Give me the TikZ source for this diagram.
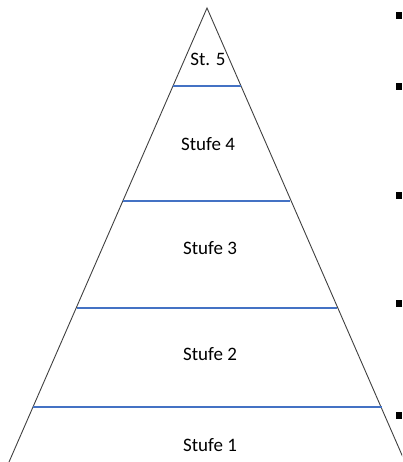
\documentclass[tikz,border=0pt]{standalone}
\usepackage{fontspec}
\setmainfont{Carlito}
\definecolor{levelblue}{HTML}{4472C4}
\begin{document}
\begin{tikzpicture}[x=1pt,y=-1pt,
  outline/.style={draw=black!75,line width=0.9pt},
  divider/.style={draw=levelblue,line width=2pt},
  label/.style={font=\fontsize{19}{21}\selectfont,inner sep=0pt},
  bullet/.style={fill=black,minimum width=6pt,minimum height=7pt,inner sep=0pt}]
  \useasboundingbox (0,0) rectangle (402,462);
  \begin{scope}
    \clip (0,0) rectangle (402,462);
    % pyramid outline
    \coordinate (apex) at (207,8);
    \coordinate (bl) at (9,462);
    \coordinate (br) at (405,462);
    \draw[outline] (bl) -- (apex) -- (br);
  \end{scope}
  % level dividers
  \coordinate (d4l) at (173,86);  \coordinate (d4r) at (241,86);
  \coordinate (d3l) at (123,201); \coordinate (d3r) at (290,201);
  \coordinate (d2l) at (77,308);  \coordinate (d2r) at (337,308);
  \coordinate (d1l) at (33,407);  \coordinate (d1r) at (382,407);
  \draw[divider] (d4l) -- (d4r);
  \draw[divider] (d3l) -- (d3r);
  \draw[divider] (d2l) -- (d2r);
  \draw[divider] (d1l) -- (d1r);
  % level names
  \node[label] (s5) at (208,59) {St. 5};
  \node[label] (s4) at (208,144) {Stufe 4};
  \node[label] (s3) at (210,248) {Stufe 3};
  \node[label] (s2) at (210,354) {Stufe 2};
  \node[label] (s1) at (210,445) {Stufe 1};
  % bullet markers
  \node[bullet] (b5) at (398.5,16) {};
  \node[bullet] (b4) at (398.5,87) {};
  \node[bullet] (b3) at (398.5,195) {};
  \node[bullet] (b2) at (398.5,303) {};
  \node[bullet] (b1) at (398.5,415) {};
\end{tikzpicture}
\end{document}
